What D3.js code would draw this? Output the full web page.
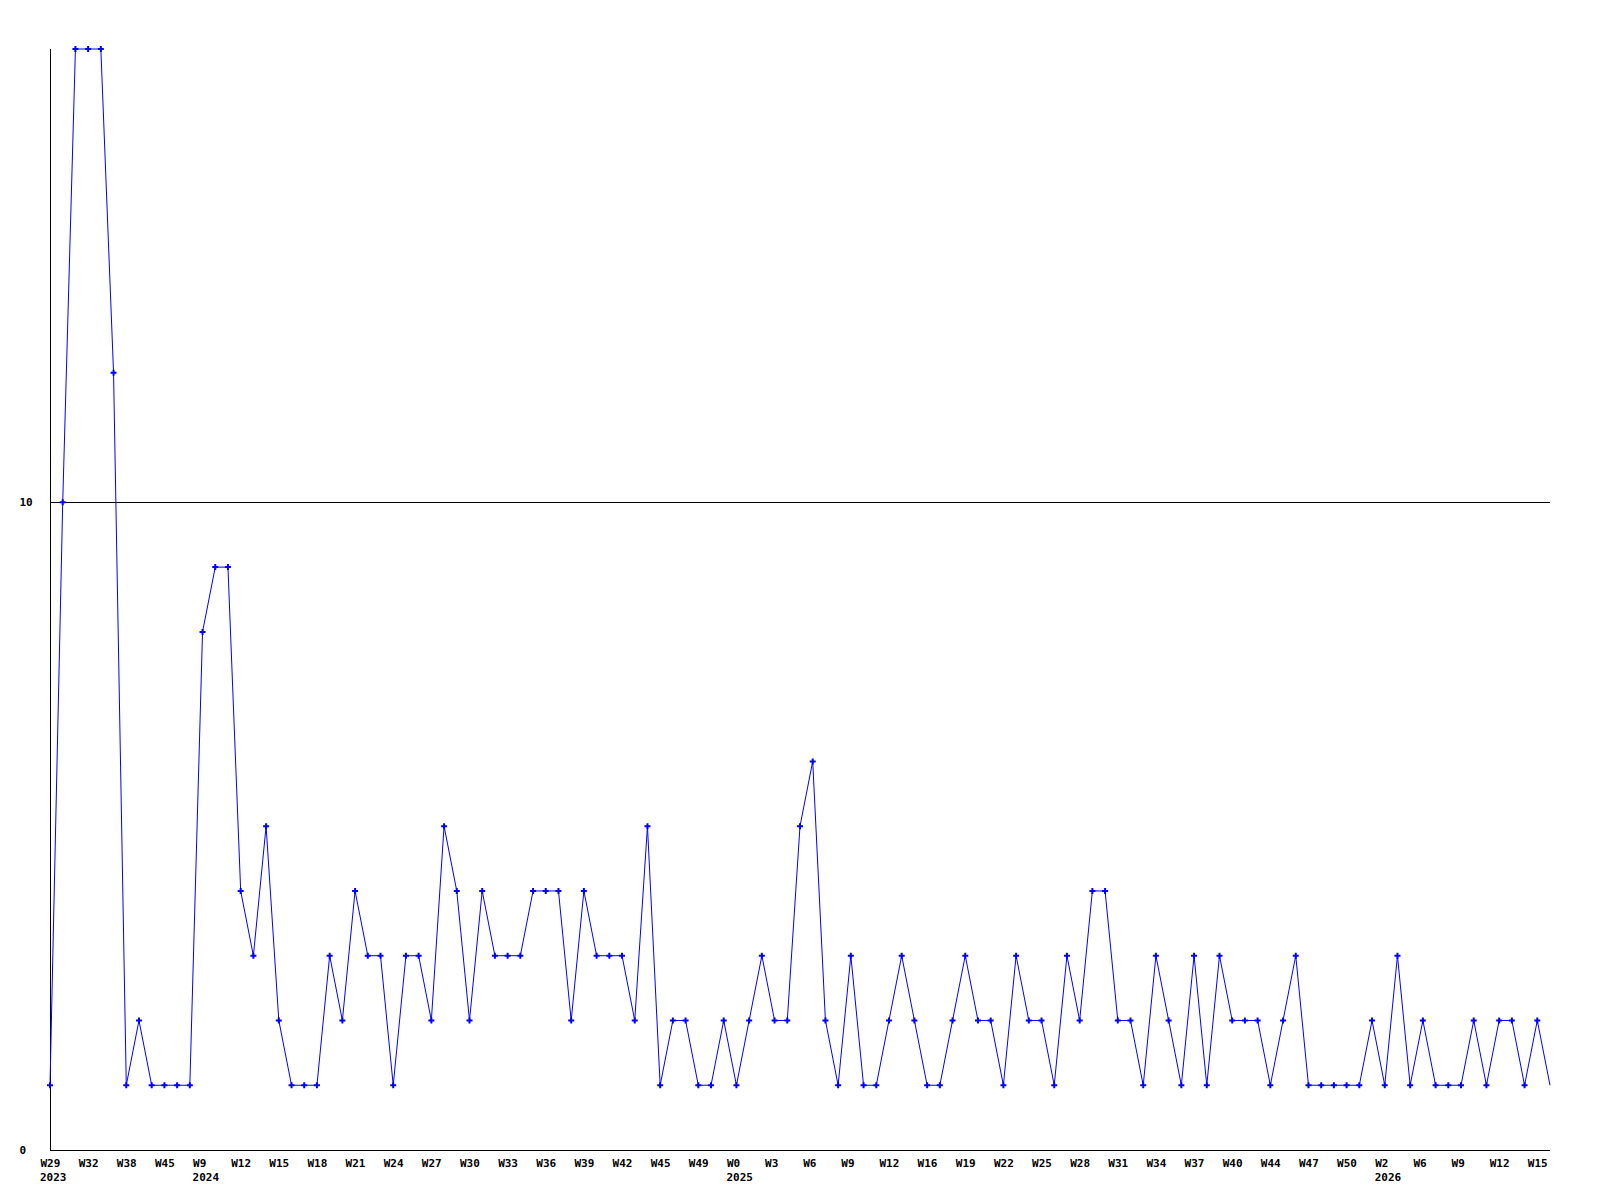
<!DOCTYPE html>
<html>
<head>
<meta charset="utf-8">
<script src="https://cdn.jsdelivr.net/npm/d3@7"></script>
<style>
  body { margin: 0; background: #fff; }
  svg text { font-family: "DejaVu Sans Mono", "Liberation Mono", monospace; font-weight: bold; font-size: 11px; fill: #000; }
</style>
</head>
<body>
<div id="chart"></div>
<script>
// weekly counts, one per point
const counts = [1, 10, 17, 17, 17, 12, 1, 2, 1, 1, 1, 1, 8, 9, 9, 4, 3, 5, 2, 1,
  1, 1, 3, 2, 4, 3, 3, 1, 3, 3, 2, 5, 4, 2, 4, 3, 3, 3, 4, 4,
  4, 2, 4, 3, 3, 3, 2, 5, 1, 2, 2, 1, 1, 2, 1, 2, 3, 2, 2, 5,
  6, 2, 1, 3, 1, 1, 2, 3, 2, 1, 1, 2, 3, 2, 2, 1, 3, 2, 2, 1,
  3, 2, 4, 4, 2, 2, 1, 3, 2, 1, 3, 1, 3, 2, 2, 2, 1, 2, 3, 1,
  1, 1, 1, 1, 2, 1, 3, 1, 2, 1, 1, 1, 2, 1, 2, 2, 1, 2, 1];

// x labels, shown on every 3rd point
const weekLabels = ["W29", "W32", "W38", "W45", "W9", "W12", "W15", "W18", "W21", "W24",
  "W27", "W30", "W33", "W36", "W39", "W42", "W45", "W49", "W0", "W3",
  "W6", "W9", "W12", "W16", "W19", "W22", "W25", "W28", "W31", "W34",
  "W37", "W40", "W44", "W47", "W50", "W2", "W6", "W9", "W12", "W15"];
const labelStep = 3;

// year labels and the point they sit under
const years = ["2023", "2024", "2025", "2026"];
const yearIdx = [0, 12, 54, 105];

const yTicks = [0, 10];

const mLeft = 50, mRight = 1550, mTop = 49, mBottom = 1150;
const labelShift = -10; // labels start a bit left of their point

const svg = d3.select("#chart").append("svg")
  .attr("width", 1600)
  .attr("height", 1200);

const x = d3.scaleLinear().domain([0, counts.length - 1]).range([mLeft, mRight]);
const y = d3.scaleLinear().domain([0, 17]).range([mBottom, mTop]);

// grid line at 10
svg.append("line")
  .attr("x1", mLeft).attr("x2", mRight)
  .attr("y1", Math.round(y(10)) + 0.5).attr("y2", Math.round(y(10)) + 0.5)
  .attr("stroke", "#000")
  .attr("shape-rendering", "crispEdges");

// y axis
const yAxis = svg.append("g")
  .attr("transform", "translate(" + (mLeft + 0.5) + ",0)")
  .call(d3.axisLeft(y).tickValues(yTicks).tickSize(0).tickPadding(0).tickFormat(d3.format("d")));
yAxis.select(".domain").attr("d", "M0," + mTop + "V" + mBottom).attr("stroke", "#000").attr("shape-rendering", "crispEdges");
yAxis.selectAll("text")
  .attr("text-anchor", "start")
  .attr("x", 19 - mLeft)
  .attr("dy", "0.32em");
yAxis.attr("font-family", null).attr("font-size", null);

// x axis
const tickIdx = weekLabels.map((d, i) => i * labelStep);
const xAxis = svg.append("g")
  .attr("transform", "translate(0," + (mBottom + 0.5) + ")")
  .call(d3.axisBottom(x).tickValues(tickIdx).tickSize(0).tickPadding(0)
    .tickFormat((d, i) => weekLabels[i]));
xAxis.select(".domain").attr("d", "M" + mLeft + ",0H" + mRight).attr("stroke", "#000").attr("shape-rendering", "crispEdges");
xAxis.selectAll("text")
  .attr("text-anchor", "start")
  .attr("x", labelShift)
  .attr("y", 13)
  .attr("dy", "0.32em");
xAxis.attr("font-family", null).attr("font-size", null);

// year labels under the week label of their first point
svg.append("g").selectAll("text")
  .data(years)
  .enter().append("text")
  .attr("x", (d, i) => x(yearIdx[i]) + labelShift)
  .attr("y", mBottom + 27)
  .attr("dy", "0.32em")
  .text(d => d);

// the line
const line = d3.line()
  .x((d, i) => x(i))
  .y(d => y(d));

svg.append("path")
  .datum(counts)
  .attr("fill", "none")
  .attr("stroke", "#0000ff")
  .attr("stroke-width", 1)
  .attr("d", line);

// point markers (the last point has none)
const cross = d3.symbol().type(d3.symbolCross).size(20);
svg.append("g").selectAll("path")
  .data(counts.slice(0, counts.length - 1))
  .enter().append("path")
  .attr("transform", (d, i) => "translate(" + x(i) + "," + y(d) + ")")
  .attr("d", cross)
  .attr("fill", "#0000ff");
</script>
</body>
</html>
